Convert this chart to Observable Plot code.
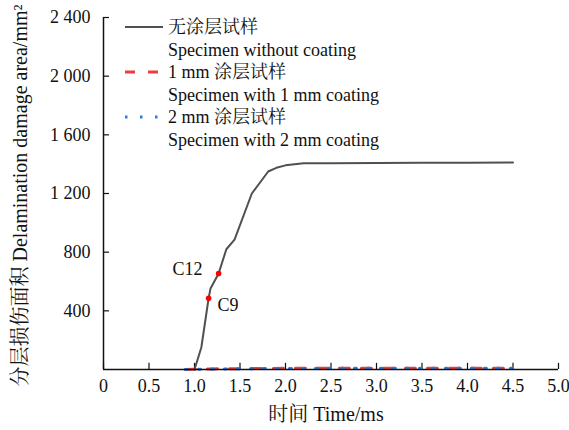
<!DOCTYPE html>
<html><head><meta charset="utf-8">
<script src="https://cdn.jsdelivr.net/npm/d3@7"></script>
<script src="https://cdn.jsdelivr.net/npm/@observablehq/plot@0.6"></script>
<style>
body{margin:0;background:#fff;}
#wrap{position:relative;width:569px;height:430px;font-family:'Liberation Serif','Noto Serif CJK SC',serif;color:#111;}
#wrap svg, #wrap svg text{font-family:'Liberation Serif','Noto Serif CJK SC',serif !important;}
#legend{position:absolute;left:125px;top:16px;font-size:18px;line-height:22.5px;font-family:'Liberation Serif','Noto Serif CJK SC',serif;}
#legend .row{display:flex;align-items:center;height:22.5px;white-space:nowrap;}
#legend svg{width:40px;height:10px;margin-right:3px;flex:none;}
#legend .pad{margin-left:43px;}
</style></head><body><div id="wrap"><div id="legend"></div></div>
<script>
// Specimen without coating
const timeNone = [1.0, 1.075, 1.155, 1.175, 1.265, 1.35, 1.44, 1.63, 1.81, 1.9, 2.0, 2.2, 2.5, 3.0, 3.5, 4.0, 4.5];
const areaNone = [0, 150, 485, 550, 655, 820, 885, 1200, 1350, 1375, 1392, 1406, 1407, 1408, 1409, 1410, 1411];
// Specimen with 1 mm coating
const time1mm = [0.9, 1.0, 1.2, 1.5, 2.0, 2.5, 3.0, 3.5, 4.0, 4.5];
const area1mm = [0, 2, 4, 6, 8, 9, 9, 9, 9, 9];
// Specimen with 2 mm coating
const time2mm = [0.9, 1.0, 1.2, 1.5, 2.0, 2.5, 3.0, 3.5, 4.0, 4.5];
const area2mm = [0, 1, 3, 5, 7, 8, 8, 8, 8, 8];
// marked points
const markLabels = ["C9", "C12"];
const markTime = [1.155, 1.265];
const markArea = [485, 655];
// ticks
const xTicks = [0, 0.5, 1.0, 1.5, 2.0, 2.5, 3.0, 3.5, 4.0, 4.5, 5.0];
const xTickLabels = ["0", "0.5", "1.0", "1.5", "2.0", "2.5", "3.0", "3.5", "4.0", "4.5", "5.0"];
const yTicks = [400, 800, 1200, 1600, 2000, 2400];
const yTickLabels = ["400", "800", "1 200", "1 600", "2 000", "2 400"];
const xTitle = "时间 Time/ms";
const yTitle = "分层损伤面积 Delamination damage area/mm²";
const seriesNames = [["无涂层试样", "Specimen without coating"], ["1 mm 涂层试样", "Specimen with 1 mm coating"], ["2 mm 涂层试样", "Specimen with 2 mm coating"]];
const colors = ["#505050", "#f03c3c", "#2a7be4"];

const toRows = (xs, ys) => xs.map((x, i) => ({x, y: ys[i]}));
const dNone = toRows(timeNone, areaNone);
const d1 = toRows(time1mm, area1mm);
const d2 = toRows(time2mm, area2mm);
const marks = markLabels.map((t, i) => ({t, x: markTime[i], y: markArea[i]}));

const chart = Plot.plot({
  width: 569, height: 430,
  marginLeft: 103, marginRight: 11, marginTop: 17, marginBottom: 61,
  style: {fontSize: "18px", background: "white", color: "#111"},
  x: {domain: [0, 5]},
  y: {domain: [0, 2400]},
  marks: [
    Plot.axisX({ticks: xTicks, tickFormat: d => xTickLabels[xTicks.indexOf(d)], tickSize: 0, tickPadding: 10, label: null, fill: "#111"}),
    Plot.axisY({ticks: yTicks, tickFormat: d => yTickLabels[yTicks.indexOf(d)], tickSize: 0, tickPadding: 13, label: null, fill: "#111"}),
    Plot.ruleX(xTicks, {x: d => d, y1: 0, y2: 42, stroke: "#111", strokeWidth: 1.2}),
    Plot.ruleY(yTicks, {y: d => d, x1: 0, x2: 0.066, stroke: "#111", strokeWidth: 1.2}),
    Plot.text([xTitle], {frameAnchor: "bottom", dy: 51, dx: -5, fontSize: 20, fill: "#111"}),
    Plot.text([yTitle], {frameAnchor: "left", textAnchor: "middle", rotate: -90, dx: -83, dy: 2, fontSize: 20, fill: "#111"}),
    Plot.line(d1, {x: "x", y: "y", stroke: colors[1], strokeWidth: 3, strokeDasharray: "10,12"}),
    Plot.line(d2, {x: "x", y: "y", stroke: colors[2], strokeWidth: 3, strokeDasharray: "2,11"}),
    Plot.line(dNone, {x: "x", y: "y", stroke: colors[0], strokeWidth: 2}),
    Plot.ruleX([0], {stroke: "#111", strokeWidth: 1.5}),
    Plot.ruleY([0], {stroke: "#111", strokeWidth: 1.5}),
    Plot.dot(marks, {x: "x", y: "y", r: 2.8, fill: "#ff0000", stroke: "none"}),
    Plot.text(marks.filter(m => m.t === "C9"), {x: "x", y: "y", text: "t", textAnchor: "start", dx: 9, dy: 7, fill: "#111"}),
    Plot.text(marks.filter(m => m.t === "C12"), {x: "x", y: "y", text: "t", textAnchor: "end", dx: -16, dy: -4, fill: "#111"})
  ]
});
const wrap = document.getElementById("wrap");
wrap.insertBefore(chart, wrap.firstChild);

const legend = document.getElementById("legend");
const samples = [
  `<line x1="0" x2="38" y1="5" y2="5" stroke="${colors[0]}" stroke-width="2"/>`,
  `<line x1="0" x2="38" y1="5" y2="5" stroke="${colors[1]}" stroke-width="3" stroke-dasharray="10,13"/>`,
  `<line x1="0" x2="38" y1="5" y2="5" stroke="${colors[2]}" stroke-width="3" stroke-dasharray="2.5,12.5"/>`
];
seriesNames.forEach((n, i) => {
  legend.insertAdjacentHTML("beforeend", `<div class="row"><svg viewBox="0 0 40 10">${samples[i]}</svg><span>${n[0]}</span></div><div class="row pad"><span>${n[1]}</span></div>`);
});
</script></body></html>
